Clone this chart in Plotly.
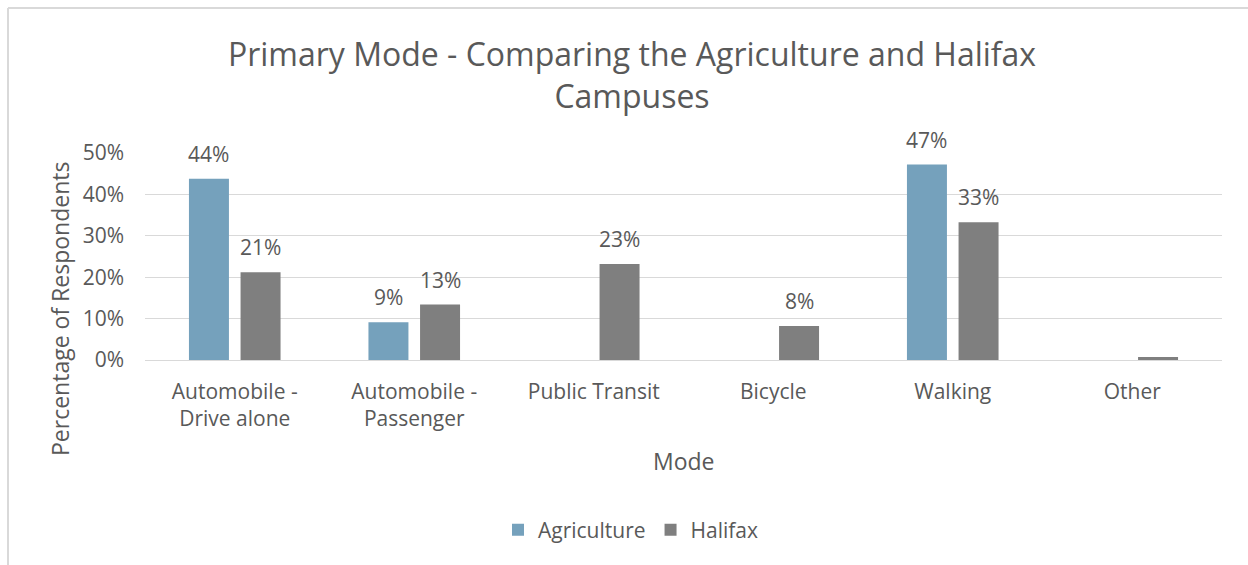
import plotly.graph_objects as go

# Commute mode shares by campus (percent of respondents)
modes = ["Automobile -<br>Drive alone", "Automobile -<br>Passenger", "Public Transit",
         "Bicycle", "Walking", "Other"]
agriculture = [43.8, 9.1, 0, 0, 47.2, 0]
halifax = [21.2, 13.4, 23.2, 8.2, 33.3, 0.7]
y_ticks = [0, 10, 20, 30, 40, 50]
y_tick_labels = ["0%", "10%", "20%", "30%", "40%", "50%"]

FONT = "Open Sans"
TEXT = "#595959"
GRID = "#d9d9d9"
W, H = 1248, 565
L, R, T, B = 145, 26, 153, 205
PW, PH = W - L - R, H - T - B


def px_x(x):
    return (x - L) / PW


def px_y(y):
    return (H - B - y) / PH


fig = go.Figure()
fig.add_trace(go.Bar(name="Agriculture", x=modes, y=agriculture,
                     marker=dict(color="#75a1bc", line=dict(width=0))))
fig.add_trace(go.Bar(name="Halifax", x=modes, y=halifax,
                     marker=dict(color="#7f7f7f", line=dict(width=0))))

# value labels above the bars (empty / tiny bars are left unlabeled)
annotations = []
for series, shift in ((agriculture, -25.8), (halifax, 25.8)):
    for m, v in zip(modes, series):
        if v >= 1:
            annotations.append(dict(x=m, y=v, xref="x", yref="y", text=f"{v:.0f}%",
                                    showarrow=False, xshift=shift, yshift=25,
                                    yanchor="middle", xanchor="center",
                                    font=dict(family=FONT, size=21, color=TEXT)))

annotations.append(dict(x=px_x(684), y=px_y(461), xref="paper", yref="paper",
                        text="Mode", showarrow=False, xanchor="center", yanchor="middle",
                        font=dict(family=FONT, size=23, color=TEXT)))
annotations.append(dict(x=px_x(60), y=px_y(309), xref="paper", yref="paper",
                        text="Percentage of Respondents", textangle=-90, showarrow=False,
                        xanchor="center", yanchor="middle",
                        font=dict(family=FONT, size=23, color=TEXT)))

# chart frame (top and left edges visible)
shapes = [
    dict(type="line", xref="paper", yref="paper", x0=px_x(8), x1=px_x(1260),
         y0=px_y(8), y1=px_y(8), line=dict(color=GRID, width=2)),
    dict(type="line", xref="paper", yref="paper", x0=px_x(8), x1=px_x(8),
         y0=px_y(8), y1=px_y(580), line=dict(color=GRID, width=2)),
]

fig.update_layout(
    width=W, height=H,
    margin=dict(l=L, r=R, t=T, b=B),
    paper_bgcolor="white", plot_bgcolor="white",
    barmode="group", bargap=0.425, bargroupgap=0.225,
    title=dict(text="Primary Mode - Comparing the Agriculture and Halifax<br>Campuses",
               x=632 / W, xanchor="center", y=1 - 66 / H, yanchor="middle",
               font=dict(family=FONT, size=32, color=TEXT)),
    font=dict(family=FONT, color=TEXT),
    xaxis=dict(showgrid=False, showline=False, ticks="", ticklabelstandoff=17,
               tickfont=dict(family=FONT, size=21, color=TEXT)),
    yaxis=dict(range=[0, 50], tickvals=y_ticks, ticktext=y_tick_labels,
               showgrid=True, gridcolor=GRID, gridwidth=1,
               zeroline=True, zerolinecolor=GRID, zerolinewidth=1,
               showline=False, ticks="", ticklabelstandoff=20,
               tickfont=dict(family=FONT, size=21, color=TEXT)),
    legend=dict(orientation="h", x=px_x(631), xanchor="center", y=px_y(530),
                yanchor="middle", font=dict(family=FONT, size=21, color=TEXT),
                itemwidth=30, traceorder="normal"),
    annotations=annotations,
    shapes=shapes,
)

fig.write_html("out.html")
